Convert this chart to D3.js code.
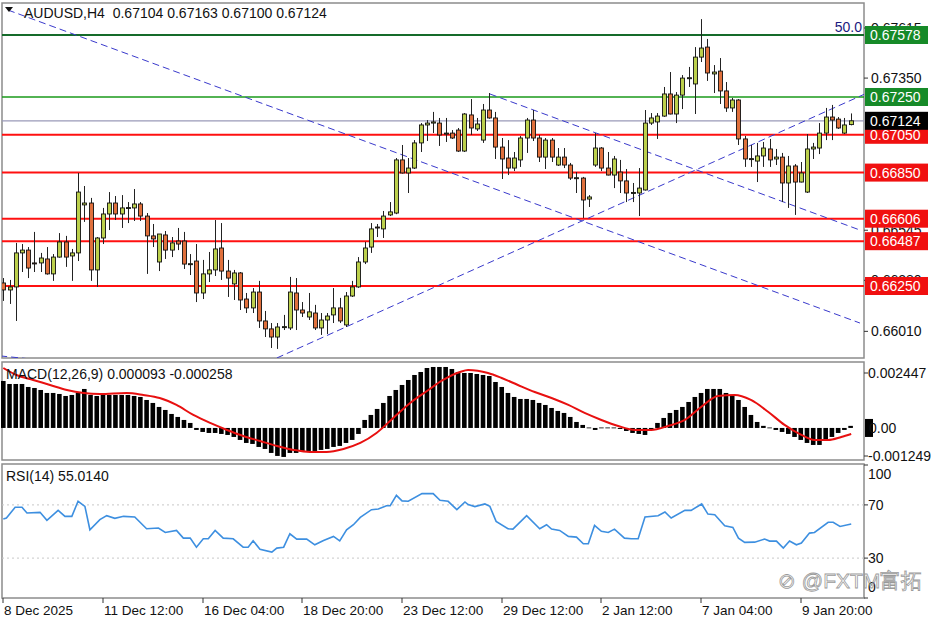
<!DOCTYPE html>
<html>
<head>
<meta charset="utf-8">
<script src="https://cdn.jsdelivr.net/npm/d3@7"></script>
<style>
  body { margin: 0; background: #fff; }
  svg { display: block; font-family: "Liberation Sans", Arial, sans-serif; }
</style>
</head>
<body>
<svg id="chart" width="936" height="624"></svg>
<script>
// candles in points (1e-5): [open, high, low, close]
const candles = [
  [66266,66292,66171,66229],[66229,66282,66155,66245],[66245,66478,66065,66425],[66425,66472,66324,66440],
  [66440,66456,66292,66345],[66372,66536,66324,66370],[66372,66425,66324,66398],[66393,66456,66310,66314],
  [66314,66419,66277,66403],[66403,66530,66400,66483],[66483,66515,66351,66403],[66409,66446,66277,66425],
  [66425,66848,66382,66747],[66679,66779,66589,66689],[66689,66716,66277,66335],[66335,66509,66245,66504],
  [66504,66663,66472,66631],[66631,66747,66546,66689],[66689,66726,66599,66631],[66631,66731,66557,66663],
  [66663,66694,66583,66665],[66663,66763,66594,66684],[66684,66694,66594,66620],[66620,66636,66314,66515],
  [66515,66578,66456,66499],[66377,66525,66329,66525],[66520,66541,66393,66440],[66440,66509,66403,66478],
  [66488,66557,66440,66472],[66488,66536,66340,66366],[66366,66419,66308,66368],[66382,66472,66165,66213],
  [66213,66388,66181,66314],[66314,66430,66271,66335],[66335,66599,66303,66446],[66451,66583,66282,66329],
  [66329,66388,66192,66292],[66261,66335,66176,66319],[66319,66324,66123,66176],[66181,66213,66107,66134],
  [66134,66239,66107,66218],[66218,66277,66028,66065],[66065,66118,65980,66023],[66023,66054,65922,65980],
  [65980,66054,65917,66033],[66033,66097,66017,66035],[66028,66298,66017,66218],[66213,66292,66017,66123],
  [66123,66165,66086,66107],[66086,66213,66070,66113],[66107,66150,66017,66028],[66028,66107,65991,66070],
  [66070,66107,65996,66091],[66097,66239,66054,66134],[66134,66187,66054,66065],[66044,66218,66033,66197],
  [66197,66277,66192,66245],[66245,66403,66240,66377],[66377,66483,66366,66451],[66456,66583,66425,66552],
  [66562,66578,66509,66560],[66552,66647,66504,66620],[66626,66694,66620,66642],[66636,66927,66630,66917],
  [66917,66996,66845,66848],[66848,66927,66742,66874],[66874,67022,66869,67007],[67007,67112,66959,67102],
  [67102,67128,67017,67112],[67112,67171,67059,67118],[67112,67139,66991,67049],[67054,67139,67012,67059],
  [67059,67075,67028,67033],[67075,67086,66959,66964],[66964,67165,66959,67160],[67155,67239,67049,67086],
  [67081,67139,67070,67107],[67022,67213,67007,67181],[67181,67271,67135,67139],[67139,67171,66922,66985],
  [66985,67033,66816,66922],[66927,67022,66837,66874],[66874,66959,66858,66927],[66917,67044,66880,67033],
  [67033,67139,66954,67128],[67128,67181,67017,67033],[67033,67049,66906,66932],[66932,67033,66869,67022],
  [67022,67033,66906,66932],[66890,66980,66885,66932],[66932,66980,66874,66890],[66890,66901,66811,66821],
  [66821,66853,66742,66823],[66821,66827,66610,66705],[66710,66731,66668,66721],[66890,67059,66880,66980],
  [66980,66985,66858,66874],[66874,66959,66835,66837],[66837,66938,66768,66922],[66853,66917,66742,66806],
  [66806,66869,66694,66742],[66742,66795,66694,66745],[66742,66874,66620,66768],[66758,67181,66755,67112],
  [67112,67165,67102,67139],[67118,67165,67028,67149],[67149,67303,67145,67266],[67266,67382,67158,67160],
  [67160,67276,67112,67260],[67260,67366,67186,67350],[67350,67409,67303,67352],[67319,67514,67160,67461],
  [67461,67662,67435,67509],[67514,67557,67335,67377],[67372,67419,67271,67382],[67387,67456,67213,67282],
  [67282,67329,67171,67192],[67192,67245,67171,67234],[67234,67239,66996,67028],[67028,67044,66880,66922],
  [66922,66996,66880,66924],[66911,67007,66800,66938],[66938,67012,66880,66980],[66975,67028,66880,66917],
  [66922,66975,66890,66932],[66932,66954,66694,66795],[66795,66938,66663,66885],[66885,66895,66626,66800],
  [66800,66906,66798,66848],[66747,67054,66742,66975],[66975,67007,66922,66985],[66980,67112,66948,67059],
  [67059,67192,67022,67144],[67144,67208,67022,67128],[67133,67144,67081,67086],[67059,67139,67054,67102],
  [67104,67163,67100,67124]
];

// MACD histogram, micro units (1e-6)
const macdHist = [
  2092,1958,1958,1958,1825,1780,1691,1558,1558,1513,1424,1469,1558,1736,1469,1424,1469,1469,1469,1469,
  1469,1424,1380,1246,1113,935,801,623,490,356,223,-89,-178,-223,-223,-267,-312,-401,-534,-668,
  -712,-846,-935,-1113,-1246,-1291,-1113,-1113,-1024,-1024,-1024,-979,-935,-846,-801,-668,-534,-267,356,579,
  846,1113,1424,1691,1914,2136,2359,2492,2670,2715,2715,2715,2626,2492,2448,2448,2403,2359,2314,2047,
  1825,1558,1380,1291,1291,1246,1113,1024,890,757,668,490,267,134,20,-89,20,20,20,-45,
  -134,-223,-267,-312,-45,223,445,668,801,935,1157,1380,1558,1736,1736,1736,1558,1469,1246,935,
  579,267,93,20,-89,-178,-267,-401,-534,-668,-757,-757,-579,-401,-223,-89,93
];

// MACD signal line, read points [bar index, micro units]
const macdSignal = [
  [0,2670],[2.1,2359],[4.8,2136],[7.5,1914],[10.2,1691],[12.9,1558],[15.5,1513],[19.8,1558],[22.5,1469],
  [25.1,1335],[27.8,1024],[30.5,579],[33.2,223],[35.9,-89],[38.5,-356],[41.2,-579],[43.9,-801],[46.6,-979],
  [49.2,-1068],[51.9,-1068],[54.6,-935],[57.3,-668],[59.9,-223],[62.6,445],[65.3,1113],[68,1647],[70.6,2136],
  [73.3,2492],[74.6,2581],[77.8,2448],[80,2225],[82.6,1914],[85.3,1602],[88,1335],[90.7,1024],[93.3,668],
  [96,356],[98.7,89],[101.4,-89],[104,-89],[106.7,89],[109.4,356],[112,935],[114.7,1424],[117.4,1469],
  [120,1246],[122.8,712],[125.4,134],[128.1,-312],[130.2,-534],[132.4,-534],[134.5,-401],[136.1,-267]
];

// RSI(14), read points [bar index, value]
const rsiPoints = [
  [0,59.4],[0.5,60.1],[1.9,68.2],[3,68.2],[3.8,63.9],[5.9,64.4],[7,58.4],[8.8,65.9],[9.9,61.4],[11,61.4],
  [12,72.7],[13.1,68.9],[13.9,51.3],[15.5,58.9],[16.6,61.9],[17.9,59.9],[19.3,61.4],[21.1,60.9],[23,52.1],
  [24.9,52.6],[26,49.3],[27.8,50.8],[28.9,45.0],[30,45.0],[31,38.2],[32.1,44.5],[32.9,44.5],[34,50.8],
  [35.3,45.0],[36.9,44.5],[38.5,38.2],[39.3,38.2],[40.1,43.0],[41.2,36.7],[43.1,34.5],[43.9,37.5],[45,38.2],
  [46,48.3],[47.1,44.3],[48.7,44.3],[50,40.0],[51.4,43.3],[53,46.3],[54,43.0],[55.1,51.3],[56.2,55.1],
  [57.3,60.6],[59.1,66.4],[60.2,66.9],[61.5,69.4],[62.1,69.4],[63.1,77.2],[64,73.0],[65,72.7],[67.2,78.5],
  [69,78.5],[70.1,73.5],[71.4,72.7],[72.8,66.4],[74.1,72.2],[74.6,70.2],[75.7,68.7],[77.3,70.7],[78.1,68.9],
  [79.1,57.6],[81,52.1],[81.8,51.8],[84,61.9],[86.1,52.1],[87.2,55.1],[88,51.8],[89.3,50.8],[90.7,46.3],
  [92,45.8],[93.1,40.8],[93.9,40.8],[94.9,54.6],[96,50.1],[97.1,49.3],[98.1,51.8],[99.7,45.0],[100.8,44.5],
  [101.9,44.5],[103,60.9],[105.1,61.9],[106.2,64.7],[107.2,60.1],[109.4,65.9],[110.4,65.9],[112.1,70.7],
  [113.1,63.1],[114.2,62.6],[115.8,54.3],[117.1,53.1],[118,45.0],[119,41.8],[120.6,42.0],[122.2,44.3],
  [123,42.8],[124.1,42.8],[125.2,37.5],[126.2,42.8],[127.3,40.0],[128.1,41.3],[129.4,48.8],[130.2,49.3],
  [132.4,56.9],[133.2,56.9],[134.3,53.8],[136.1,55.6]
];

// horizontal levels
const greenLevels = [0.67578, 0.67250];
const redLevels = [0.67050, 0.66850, 0.66606, 0.66487, 0.66250];
const lastPrice = 0.67124;
const priceTicks = [0.67615, 0.67350, 0.66545, 0.66280, 0.66010];

// dashed trendlines [[bar, price], [bar, price]]
const trendLines = [
  [[0.75, 0.67710], [137.5, 0.66054]],
  [[78.1, 0.67266], [137.5, 0.66546]],
  [[43.9, 0.65869], [138.3, 0.67266]],
  [[-0.5, 0.65880], [5.9, 0.65859]]
];

const dateTickIdx = [0, 16, 32, 48, 64, 80, 96, 112, 128];
const dateLabels = ["8 Dec 2025", "11 Dec 12:00", "16 Dec 04:00", "18 Dec 20:00", "23 Dec 12:00",
  "29 Dec 12:00", "2 Jan 12:00", "7 Jan 04:00", "9 Jan 20:00"];
const macdTicks = [0.002447, -0.001249];
const rsiTicks = [100, 70, 30, 0];

const svg = d3.select("#chart");
const axisX = 864, left = 2;
const grey = "#8c8c8c";
const fs = 14;

const x = d3.scaleLinear().domain([0, 136]).range([3.3, 850.6]);
const y = d3.scaleLinear().domain([0.65869, 0.67742]).range([358, 4]);
const yM = d3.scaleLinear().domain([-0.001249, 0.002447]).range([456, 373]);
const yR = d3.scaleLinear().domain([0, 100]).range([598, 465]);

// panel frames
[[3, 358], [362, 460], [464, 598]].forEach(([t, b]) => {
  svg.append("rect").attr("x", left).attr("y", t).attr("width", axisX - left).attr("height", b - t)
    .attr("fill", "none").attr("stroke", grey).attr("stroke-width", 1.5);
});

const main = svg.append("g");
const clip = svg.append("clipPath").attr("id", "mainclip");
clip.append("rect").attr("x", left).attr("y", 4).attr("width", axisX - left).attr("height", 354);
main.attr("clip-path", "url(#mainclip)");

// levels
main.append("line").attr("x1", left).attr("x2", axisX).attr("y1", y(lastPrice)).attr("y2", y(lastPrice))
  .attr("stroke", "#9a9ab8").attr("stroke-width", 1.3);
redLevels.forEach(p => main.append("line").attr("x1", left).attr("x2", axisX).attr("y1", y(p)).attr("y2", y(p))
  .attr("stroke", "#ff1010").attr("stroke-width", 2));
main.append("line").attr("x1", left).attr("x2", axisX).attr("y1", y(greenLevels[0])).attr("y2", y(greenLevels[0]))
  .attr("stroke", "#156b2a").attr("stroke-width", 2.2);
main.append("line").attr("x1", left).attr("x2", axisX).attr("y1", y(greenLevels[1])).attr("y2", y(greenLevels[1]))
  .attr("stroke", "#1a9a1a").attr("stroke-width", 1.4);

// trendlines
const tl = d3.line().x(d => x(d[0])).y(d => y(d[1]));
trendLines.forEach(seg => main.append("path").attr("d", tl(seg)).attr("fill", "none")
  .attr("stroke", "#3a3acc").attr("stroke-width", 1).attr("stroke-dasharray", "7,4"));

// candles
const bw = 4;
candles.forEach((c, i) => {
  const [o, h, l, cl] = c.map(v => v / 1e5);
  const cx = Math.round(x(i)) + 0.5;
  main.append("line").attr("x1", cx).attr("x2", cx).attr("y1", y(h)).attr("y2", y(l))
    .attr("stroke", "#222").attr("stroke-width", 1);
  const top = y(Math.max(o, cl)), bot = y(Math.min(o, cl));
  main.append("rect").attr("x", cx - bw / 2).attr("y", top).attr("width", bw)
    .attr("height", Math.max(bot - top, 1))
    .attr("fill", cl >= o ? "#bcd04c" : "#e0703c").attr("stroke", "#111").attr("stroke-width", 0.9);
});

// fibo label
svg.append("text").attr("x", 862).attr("y", 32).attr("text-anchor", "end").attr("font-size", fs)
  .attr("fill", "#1a1a80").text("50.0");

// price axis
priceTicks.forEach(p => {
  svg.append("line").attr("x1", axisX).attr("x2", axisX + 4).attr("y1", y(p)).attr("y2", y(p)).attr("stroke", "#333");
  svg.append("text").attr("x", 871).attr("y", y(p) + 5).attr("font-size", fs).attr("fill", "#111")
    .text(p.toFixed(5));
});
function tag(p, bg) {
  svg.append("rect").attr("x", axisX + 1).attr("y", y(p) - 9).attr("width", 63).attr("height", 18).attr("fill", bg);
  svg.append("text").attr("x", 870).attr("y", y(p) + 5).attr("font-size", fs).attr("fill", "#fff")
    .text(p.toFixed(5));
}
redLevels.forEach(p => tag(p, "#f01010"));
greenLevels.forEach(p => tag(p, "#168a28"));
tag(lastPrice, "#000");

// title
svg.append("path").attr("d", "M5,7 L13,7 L9,12 Z").attr("fill", "#111");
svg.append("text").attr("x", 24).attr("y", 18).attr("font-size", fs).attr("fill", "#111")
  .attr("xml:space", "preserve").text("AUDUSD,H4  0.67104 0.67163 0.67100 0.67124");

// MACD
const mg = svg.append("g");
macdHist.forEach((v, i) => {
  const val = v / 1e6;
  const y0 = yM(0), y1 = yM(val);
  mg.append("rect").attr("x", x(i) - 2.3).attr("width", 4.6)
    .attr("y", Math.min(y0, y1)).attr("height", Math.max(Math.abs(y1 - y0), 0.8)).attr("fill", "#000");
});
mg.append("path").attr("d", d3.line().curve(d3.curveMonotoneX).x(d => x(d[0])).y(d => yM(d[1] / 1e6))(macdSignal))
  .attr("fill", "none").attr("stroke", "#e81010").attr("stroke-width", 2);
svg.append("text").attr("x", 6).attr("y", 379).attr("font-size", fs).attr("fill", "#111")
  .text("MACD(12,26,9) 0.000093 -0.000258");
macdTicks.forEach(v => {
  svg.append("line").attr("x1", axisX).attr("x2", axisX + 4).attr("y1", yM(v)).attr("y2", yM(v)).attr("stroke", "#333");
  svg.append("text").attr("x", 868).attr("y", yM(v) + 5).attr("font-size", fs).attr("fill", "#111").text(v.toFixed(6));
});
svg.append("rect").attr("x", axisX + 1).attr("y", yM(0) - 9).attr("width", 8).attr("height", 18).attr("fill", "#000");
svg.append("text").attr("x", 869).attr("y", yM(0) + 5).attr("font-size", fs).attr("fill", "#111").text("0.00");

// RSI
[70, 30].forEach(v => svg.append("line").attr("x1", left).attr("x2", axisX).attr("y1", yR(v)).attr("y2", yR(v))
  .attr("stroke", "#c8c8c8").attr("stroke-dasharray", "2,3"));
svg.append("path").attr("d", d3.line().x(d => x(d[0])).y(d => yR(d[1]))(rsiPoints))
  .attr("fill", "none").attr("stroke", "#3d8fe0").attr("stroke-width", 1.6);
svg.append("text").attr("x", 6).attr("y", 481).attr("font-size", fs).attr("fill", "#111").text("RSI(14) 55.0140");
const rsiLabelY = { 100: 479, 70: 510, 30: 563, 0: 592 };
rsiTicks.forEach(v => {
  svg.append("line").attr("x1", axisX).attr("x2", axisX + 4).attr("y1", yR(v)).attr("y2", yR(v)).attr("stroke", "#333");
  svg.append("text").attr("x", 868).attr("y", rsiLabelY[v]).attr("font-size", fs).attr("fill", "#111").text(v);
});

// watermark
svg.append("text").attr("x", 778).attr("y", 588).attr("font-size", 21).attr("fill", "none")
  .attr("stroke", "#9a9a9a").attr("stroke-width", 0.8).text("⊘ @FXTM富拓");

// time axis
dateTickIdx.forEach((idx, k) => {
  const tx = Math.round(x(idx));
  svg.append("line").attr("x1", tx).attr("x2", tx).attr("y1", 598).attr("y2", 603).attr("stroke", "#333");
  svg.append("text").attr("x", tx + 1).attr("y", 615).attr("font-size", 13.5).attr("fill", "#111").text(dateLabels[k]);
});
</script>
</body>
</html>
